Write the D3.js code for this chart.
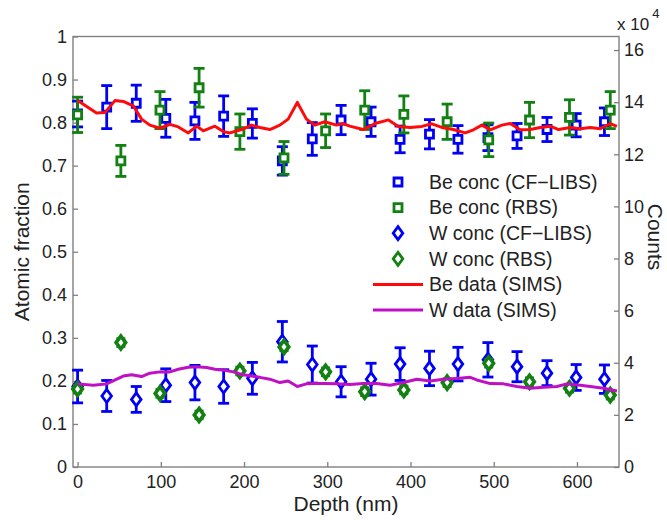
<!DOCTYPE html>
<html lang="en">
<head>
<meta charset="utf-8">
<title>Atomic fraction vs depth</title>
<script src="https://d3js.org/d3.v7.min.js"></script>
<style type="text/css">
    body { margin: 0; background: #fff; }
    svg text {
        font-family: "Liberation Sans", Arial, Helvetica, sans-serif;
        fill: #222;
    }
    .axis text { font-size: 18px; }
    .axis line { stroke: #808080; stroke-width: 1.3px; }
    .axis path { display: none; }
</style>
</head>
<body>
<script>
// depth positions (nm)
var libsDepth = [0, 35, 70.5, 106, 141, 175.5, 210, 246, 282, 316.6, 352.6, 387.5, 422.8, 457, 493, 528, 564, 599, 633];
var rbsDepth = [0, 52, 99, 146, 195, 248, 298, 345, 392, 444, 494, 543, 591, 640];

// Be (CF-LIBS) and Be (RBS), atomic fraction
var beLibsVal = [0.82, 0.836, 0.845, 0.81, 0.804, 0.815, 0.798, 0.711, 0.762, 0.806, 0.802, 0.761, 0.773, 0.761, 0.765, 0.769, 0.784, 0.794, 0.802];
var beLibsErr = [0.03, 0.05, 0.042, 0.044, 0.043, 0.047, 0.034, 0.033, 0.038, 0.034, 0.034, 0.031, 0.034, 0.032, 0.03, 0.029, 0.028, 0.027, 0.032];
var beRbsVal = [0.818, 0.711, 0.829, 0.881, 0.779, 0.718, 0.781, 0.829, 0.819, 0.802, 0.760, 0.806, 0.812, 0.829];
var beRbsErr = [0.041, 0.036, 0.043, 0.045, 0.041, 0.038, 0.039, 0.045, 0.043, 0.041, 0.039, 0.041, 0.041, 0.043];

// W (CF-LIBS) and W (RBS), atomic fraction
var wLibsVal = [0.187, 0.165, 0.157, 0.19, 0.196, 0.187, 0.206, 0.291, 0.238, 0.198, 0.204, 0.239, 0.229, 0.239, 0.249, 0.233, 0.218, 0.208, 0.204];
var wLibsErr = [0.038, 0.036, 0.03, 0.038, 0.04, 0.039, 0.037, 0.047, 0.043, 0.035, 0.037, 0.038, 0.04, 0.039, 0.04, 0.035, 0.029, 0.03, 0.033];
var wRbsVal = [0.181, 0.289, 0.171, 0.121, 0.223, 0.279, 0.221, 0.175, 0.179, 0.196, 0.241, 0.198, 0.183, 0.167];
var wRbsErr = [0.009, 0.009, 0.009, 0.009, 0.009, 0.009, 0.009, 0.009, 0.009, 0.009, 0.009, 0.009, 0.009, 0.009];

// SIMS counts (x 10^4)
var beSimsDepth = [0, 22.8, 32.8, 44.9, 54.9, 66.9, 76.9, 86.9, 99, 111, 121, 133, 143, 151, 165, 175, 183, 197, 209, 219, 231, 243, 253, 264, 275, 285, 297, 311, 319, 327, 343, 357.5, 373.5, 385.5, 399.5, 413.6, 425.6, 437.7, 451.6, 465.7, 475.7, 485.7, 495.8, 509.8, 519.8, 531.8, 543.8, 555.9, 567.9, 577.9, 591.9, 604, 616, 628, 640, 648];
var beSimsCounts = [14.06, 13.58, 13.6, 14.06, 14.03, 13.86, 13.35, 13.12, 13.0, 13.15, 13.05, 12.82, 13.08, 12.9, 13.08, 12.87, 12.82, 12.95, 13.12, 13.03, 12.95, 13.12, 13.35, 13.99, 13.35, 13.12, 13.25, 13.12, 13.18, 13.08, 12.95, 13.18, 13.32, 13.07, 13.03, 13.07, 13.17, 13.03, 12.95, 12.82, 12.94, 13.12, 12.94, 13.12, 13.18, 12.94, 12.95, 13.03, 13.08, 12.95, 13.03, 12.98, 13.03, 12.98, 13.18, 13.07];
var wSimsDepth = [0, 18.8, 34.9, 54.9, 64.9, 76.9, 86.9, 99, 111, 121, 133, 143, 155, 165, 175, 187, 197, 209, 219, 231, 243, 253, 264, 275, 285, 297, 311, 327, 343, 359.5, 375.5, 391.5, 407.6, 423.6, 439.7, 455.7, 471.7, 479.7, 495.8, 511.8, 527.8, 543.8, 559.9, 575.9, 588, 604, 616, 632, 648];
var wSimsCounts = [3.19, 3.14, 3.19, 3.49, 3.54, 3.47, 3.6, 3.65, 3.65, 3.75, 3.83, 3.85, 3.82, 3.75, 3.72, 3.65, 3.55, 3.49, 3.44, 3.37, 3.24, 3.3, 3.09, 3.19, 3.2, 3.2, 3.19, 3.17, 3.2, 3.2, 3.14, 3.24, 3.37, 3.3, 3.37, 3.4, 3.44, 3.34, 3.2, 3.19, 3.09, 3.02, 3.06, 3.09, 3.19, 3.14, 3.09, 3.02, 2.92];

// ticks and labels
var xTicks = [0, 100, 200, 300, 400, 500, 600];
var yLeftTicks = [0, 0.1, 0.2, 0.3, 0.4, 0.5, 0.6, 0.7, 0.8, 0.9, 1];
var yRightTicks = [0, 2, 4, 6, 8, 10, 12, 14, 16];
var legendLabels = ["Be conc (CF\u2212LIBS)", "Be conc (RBS)", "W conc (CF\u2212LIBS)", "W conc (RBS)", "Be data (SIMS)", "W data (SIMS)"];

var width = 667, height = 520;
var pLeft = 73, pRight = 619, pTop = 36.5, pBottom = 467;
var blue = "#0000f5", green = "#128012", red = "#ff0a0a", purple = "#bf10c4";

var x = d3.scaleLinear().domain([-5.5, 650.5]).range([pLeft, pRight]);
var yL = d3.scaleLinear().domain([0, 1]).range([pBottom, pTop]);
var yR = d3.scaleLinear().domain([0, 16.52]).range([pBottom, pTop]);

var svg = d3.select("body")
    .append("svg")
    .attr("width", width)
    .attr("height", height);

// axes, ticks inside like matlab
svg.append("g").attr("class", "axis")
    .attr("transform", "translate(0," + pBottom + ")")
    .call(d3.axisBottom(x).tickValues(xTicks).tickSizeInner(-5).tickSizeOuter(0).tickPadding(6))
    .selectAll("text").attr("dy", "0.82em");

svg.append("g").attr("class", "axis")
    .attr("transform", "translate(" + pLeft + ",0)")
    .call(d3.axisLeft(yL).tickValues(yLeftTicks).tickSizeInner(-5).tickSizeOuter(0).tickPadding(6)
        .tickFormat(function (d) { return (d === 0 || d === 1) ? String(d) : d.toFixed(1); }));

svg.append("g").attr("class", "axis")
    .attr("transform", "translate(" + pRight + ",0)")
    .call(d3.axisRight(yR).tickValues(yRightTicks).tickSizeInner(-5).tickSizeOuter(0).tickPadding(5));

// box
svg.append("rect")
    .attr("x", pLeft).attr("y", pTop)
    .attr("width", pRight - pLeft).attr("height", pBottom - pTop)
    .attr("fill", "none").attr("stroke", "#808080").attr("stroke-width", 1.4);

// axis titles
svg.append("text")
    .attr("x", (pLeft + pRight) / 2).attr("y", 511)
    .attr("text-anchor", "middle").style("font-size", "21px")
    .text("Depth (nm)");

svg.append("text")
    .attr("transform", "translate(29," + ((pTop + pBottom) / 2) + ") rotate(-90)")
    .attr("text-anchor", "middle").style("font-size", "21px")
    .text("Atomic fraction");

svg.append("text")
    .attr("transform", "translate(648,237) rotate(90)")
    .attr("text-anchor", "middle").style("font-size", "21px")
    .text("Counts");

var mult = svg.append("text").attr("x", 617).attr("y", 30).style("font-size", "17px");
mult.append("tspan").text("x 10");
mult.append("tspan").attr("dx", 3).attr("dy", -12).style("font-size", "13px").text("4");

// error bar series
function zipPts(depth, vals, errs) {
    return depth.map(function (d, i) { return { d: d, v: vals[i], e: errs[i] }; });
}

function errorBars(pts, color, capW) {
    var g = svg.append("g").attr("stroke", color).attr("stroke-width", 2.8).attr("fill", "none");
    var eb = g.selectAll("g").data(pts).enter().append("g");
    eb.append("line")
        .attr("x1", function (p) { return x(p.d); }).attr("x2", function (p) { return x(p.d); })
        .attr("y1", function (p) { return yL(p.v - p.e); }).attr("y2", function (p) { return yL(p.v + p.e); });
    eb.append("line")
        .attr("x1", function (p) { return x(p.d) - capW / 2; }).attr("x2", function (p) { return x(p.d) + capW / 2; })
        .attr("y1", function (p) { return yL(p.v + p.e); }).attr("y2", function (p) { return yL(p.v + p.e); });
    eb.append("line")
        .attr("x1", function (p) { return x(p.d) - capW / 2; }).attr("x2", function (p) { return x(p.d) + capW / 2; })
        .attr("y1", function (p) { return yL(p.v - p.e); }).attr("y2", function (p) { return yL(p.v - p.e); });
}

function squarePath(cx, cy) {
    return "M" + (cx - 4) + "," + (cy - 4) + "h8v8h-8z";
}
function diamondPath(cx, cy) {
    return "M" + cx + "," + (cy - 6.5) + "L" + (cx + 4.8) + "," + cy + "L" + cx + "," + (cy + 6.5) + "L" + (cx - 4.8) + "," + cy + "Z";
}

function markers(pts, color, shape, sw) {
    svg.append("g").selectAll("path").data(pts).enter().append("path")
        .attr("d", function (p) { return shape(x(p.d), yL(p.v)); })
        .attr("fill", "#fff").attr("stroke", color).attr("stroke-width", sw);
}

var beLibs = zipPts(libsDepth, beLibsVal, beLibsErr);
var beRbs = zipPts(rbsDepth, beRbsVal, beRbsErr);
var wLibs = zipPts(libsDepth, wLibsVal, wLibsErr);
var wRbs = zipPts(rbsDepth, wRbsVal, wRbsErr);

errorBars(beLibs, blue, 11);
markers(beLibs, blue, squarePath, 2.8);
errorBars(beRbs, green, 11);
markers(beRbs, green, squarePath, 2.8);
errorBars(wLibs, blue, 11);
markers(wLibs, blue, diamondPath, 2.8);
errorBars(wRbs, green, 9);
markers(wRbs, green, diamondPath, 3.6);

// SIMS lines on right axis
var simsLine = d3.line()
    .x(function (p) { return x(p[0]); })
    .y(function (p) { return yR(p[1]); });

svg.append("path")
    .datum(beSimsDepth.map(function (d, i) { return [d, beSimsCounts[i]]; }))
    .attr("d", simsLine).attr("fill", "none").attr("stroke", red)
    .attr("stroke-width", 3).attr("stroke-linejoin", "round");

svg.append("path")
    .datum(wSimsDepth.map(function (d, i) { return [d, wSimsCounts[i]]; }))
    .attr("d", simsLine).attr("fill", "none").attr("stroke", purple)
    .attr("stroke-width", 3).attr("stroke-linejoin", "round");

// legend
var legColors = [blue, green, blue, green, red, purple];
var legKinds = ["sq", "sq", "di", "di", "ln", "ln"];
var leg = svg.append("g").selectAll("g").data(legendLabels).enter().append("g")
    .attr("transform", function (d, i) { return "translate(0," + (182 + i * 25.6) + ")"; });

leg.each(function (d, i) {
    var g = d3.select(this);
    if (legKinds[i] === "ln") {
        g.append("line").attr("x1", 373).attr("x2", 423).attr("y1", 0).attr("y2", 0)
            .attr("stroke", legColors[i]).attr("stroke-width", 3);
    } else {
        g.append("path")
            .attr("d", legKinds[i] === "sq" ? squarePath(398, 0) : diamondPath(398, 0))
            .attr("fill", "#fff").attr("stroke", legColors[i]).attr("stroke-width", 2.8);
    }
    g.append("text").attr("x", 429).attr("y", 0).attr("dy", "0.35em")
        .style("font-size", "19.5px").text(d);
});
</script>
</body>
</html>
